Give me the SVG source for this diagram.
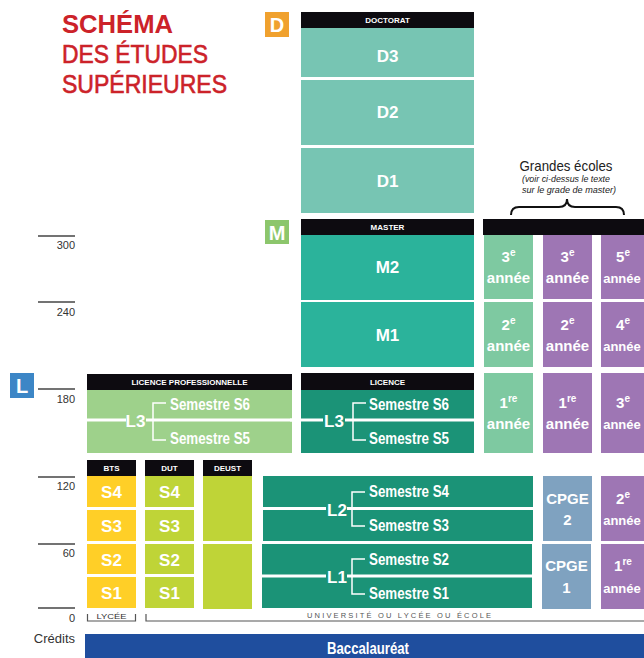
<svg xmlns="http://www.w3.org/2000/svg" width="644" height="658" viewBox="0 0 644 658">
<style>
text{font-family:"Liberation Sans Narrow","Liberation Sans",Arial,sans-serif}
.title{fill:#cc2229;font-size:25px}
.med{stroke:#cc2229;stroke-width:0.6}
.hdr{fill:#fff;font-size:8px;font-weight:bold;text-anchor:middle}
.lbl{fill:#fff;font-size:17px;font-weight:bold;text-anchor:middle}
.sem{fill:#fff;font-size:16px;font-weight:bold}
.yr{fill:#fff;font-size:15px;font-weight:bold;text-anchor:middle}
.yr3{fill:#fff;font-size:13px;font-weight:bold;text-anchor:middle}
.sup{font-size:10px}
.badge{fill:#fff;font-size:20px;font-weight:bold;text-anchor:middle}
.scale{fill:#333;font-size:11px;text-anchor:end}
.tick{stroke:#444;stroke-width:1.3}
.wl{stroke:#fff;stroke-width:3}
.br{stroke:#fff;stroke-width:1.5;fill:none}
.gbr{stroke:#555;stroke-width:1.2;fill:none}
.blk{fill:#0d0b10}
</style>

<g id="title">
<text class="title" x="62" y="33" font-weight="bold" textLength="111" lengthAdjust="spacingAndGlyphs">SCHÉMA</text>
<text class="title med" x="62" y="63" textLength="146" lengthAdjust="spacingAndGlyphs">DES ÉTUDES</text>
<text class="title med" x="62" y="93" textLength="165" lengthAdjust="spacingAndGlyphs">SUPÉRIEURES</text>
</g>

<g id="scale">
<line class="tick" x1="38" y1="236" x2="75" y2="236"/><text class="scale" x="75" y="249">300</text>
<line class="tick" x1="38" y1="302" x2="75" y2="302"/><text class="scale" x="75" y="316">240</text>
<line class="tick" x1="38" y1="389" x2="75" y2="389"/><text class="scale" x="75" y="403">180</text>
<line class="tick" x1="38" y1="477" x2="75" y2="477"/><text class="scale" x="75" y="490">120</text>
<line class="tick" x1="38" y1="544" x2="75" y2="544"/><text class="scale" x="75" y="557">60</text>
<line class="tick" x1="38" y1="608" x2="75" y2="608"/><text class="scale" x="75" y="622">0</text>
<text x="75" y="643" fill="#333" font-size="13" text-anchor="end">Crédits</text>
</g>

<g id="badge-D"><rect x="265" y="12" width="24" height="25" fill="#f0a12e"/><text class="badge" x="277" y="32">D</text></g>
<g id="badge-M"><rect x="265" y="220" width="24" height="24" fill="#8cc66c"/><text class="badge" x="277" y="240">M</text></g>
<g id="badge-L"><rect x="10" y="373" width="24" height="25" fill="#3c86c6"/><text class="badge" x="22" y="393">L</text></g>

<g id="doctorat">
<rect class="blk" x="301" y="12" width="173" height="16"/><text class="hdr" x="387.5" y="23">DOCTORAT</text>
<rect x="301" y="28" width="173" height="49" fill="#77c5b3"/><text class="lbl" x="387.5" y="62">D3</text>
<rect x="301" y="80" width="173" height="65" fill="#77c5b3"/><text class="lbl" x="387.5" y="118">D2</text>
<rect x="301" y="148" width="173" height="65" fill="#77c5b3"/><text class="lbl" x="387.5" y="187">D1</text>
</g>

<g id="master">
<rect class="blk" x="301" y="219" width="173" height="16"/><text class="hdr" x="387.5" y="230">MASTER</text>
<rect x="301" y="235" width="173" height="65" fill="#2bb39b"/><text class="lbl" x="387.5" y="273">M2</text>
<rect x="301" y="302" width="173" height="65" fill="#2bb39b"/><text class="lbl" x="387.5" y="341">M1</text>
</g>

<g id="licence">
<rect class="blk" x="301" y="373" width="173" height="17"/><text class="hdr" x="387.5" y="385">LICENCE</text>
<rect x="301" y="390" width="173" height="63" fill="#1b9377"/>
<text class="lbl" x="334" y="427">L3</text>
<text class="sem" x="369" y="410" textLength="80" lengthAdjust="spacingAndGlyphs">Semestre S6</text>
<text class="sem" x="369" y="444" textLength="80" lengthAdjust="spacingAndGlyphs">Semestre S5</text>
</g>

<g id="licence-pro">
<rect class="blk" x="87" y="374" width="205" height="16"/><text class="hdr" x="189.5" y="385">LICENCE PROFESSIONNELLE</text>
<rect x="87" y="390" width="205" height="63" fill="#9ed18b"/>
<text class="lbl" x="135.5" y="427">L3</text>
<text class="sem" x="170" y="410" textLength="80" lengthAdjust="spacingAndGlyphs">Semestre S6</text>
<text class="sem" x="170" y="444" textLength="80" lengthAdjust="spacingAndGlyphs">Semestre S5</text>
</g>

<g id="l2">
<rect x="263" y="476" width="270" height="65" fill="#1b9377"/>
<text class="lbl" x="337" y="516">L2</text>
<text class="sem" x="369" y="497" textLength="80" lengthAdjust="spacingAndGlyphs">Semestre S4</text>
<text class="sem" x="369" y="531" textLength="80" lengthAdjust="spacingAndGlyphs">Semestre S3</text>
</g>

<g id="l1">
<rect x="262" y="544" width="270" height="64" fill="#1b9377"/>
<text class="lbl" x="337" y="583">L1</text>
<text class="sem" x="369" y="565" textLength="80" lengthAdjust="spacingAndGlyphs">Semestre S2</text>
<text class="sem" x="369" y="599" textLength="80" lengthAdjust="spacingAndGlyphs">Semestre S1</text>
</g>

<g id="bts">
<rect class="blk" x="87" y="460" width="49" height="16"/><text class="hdr" x="111.5" y="471">BTS</text>
<rect x="87" y="476" width="49" height="31" fill="#ffcf27"/><text class="lbl" x="111.5" y="498">S4</text>
<rect x="87" y="510" width="49" height="31" fill="#ffcf27"/><text class="lbl" x="111.5" y="532">S3</text>
<rect x="87" y="544" width="49" height="30" fill="#ffcf27"/><text class="lbl" x="111.5" y="566">S2</text>
<rect x="87" y="577" width="49" height="31" fill="#ffcf27"/><text class="lbl" x="111.5" y="599">S1</text>
</g>

<g id="dut">
<rect class="blk" x="145" y="460" width="49" height="16"/><text class="hdr" x="169.5" y="471">DUT</text>
<rect x="145" y="476" width="49" height="31" fill="#bfd437"/><text class="lbl" x="169.5" y="498">S4</text>
<rect x="145" y="510" width="49" height="31" fill="#bfd437"/><text class="lbl" x="169.5" y="532">S3</text>
<rect x="145" y="544" width="49" height="30" fill="#bfd437"/><text class="lbl" x="169.5" y="566">S2</text>
<rect x="145" y="577" width="49" height="31" fill="#bfd437"/><text class="lbl" x="169.5" y="599">S1</text>
</g>

<g id="deust">
<rect class="blk" x="203" y="460" width="49" height="16"/><text class="hdr" x="227.5" y="471">DEUST</text>
<rect x="203" y="476" width="49" height="65" fill="#bfd437"/>
<rect x="203" y="544" width="49" height="65" fill="#bfd437"/>
</g>

<g id="grandes-ecoles">
<text x="566" y="171" font-size="15" fill="#222" text-anchor="middle" textLength="93" lengthAdjust="spacingAndGlyphs">Grandes écoles</text>
<text x="566" y="182" font-size="9.5" font-style="italic" fill="#222" text-anchor="middle" textLength="88" lengthAdjust="spacingAndGlyphs">(voir ci-dessus le texte</text>
<text x="569" y="193" font-size="9.5" font-style="italic" fill="#222" text-anchor="middle" textLength="94" lengthAdjust="spacingAndGlyphs">sur le grade de master)</text>
<path d="M511,215 Q511,207 519,207 L559,207 Q567,207 567,199 Q567,207 575,207 L616,207 Q624,207 624,215" fill="none" stroke="#111" stroke-width="2"/>
<rect class="blk" x="483" y="219" width="161" height="16"/>
</g>

<g id="ge-col1">
<rect x="484" y="235" width="49" height="64" fill="#7ec9a1"/>
<text class="yr" x="508.5" y="262">3<tspan class="sup" dy="-6">e</tspan></text><text class="yr" x="508.5" y="283">année</text>
<rect x="484" y="302" width="49" height="65" fill="#7ec9a1"/>
<text class="yr" x="508.5" y="330">2<tspan class="sup" dy="-6">e</tspan></text><text class="yr" x="508.5" y="351">année</text>
<rect x="484" y="373" width="49" height="80" fill="#7ec9a1"/>
<text class="yr" x="508.5" y="408">1<tspan class="sup" dy="-6">re</tspan></text><text class="yr" x="508.5" y="429">année</text>
</g>

<g id="ge-col2">
<rect x="543" y="235" width="49" height="64" fill="#9e76b4"/>
<text class="yr" x="567.5" y="262">3<tspan class="sup" dy="-6">e</tspan></text><text class="yr" x="567.5" y="283">année</text>
<rect x="543" y="302" width="49" height="65" fill="#9e76b4"/>
<text class="yr" x="567.5" y="330">2<tspan class="sup" dy="-6">e</tspan></text><text class="yr" x="567.5" y="351">année</text>
<rect x="543" y="373" width="49" height="80" fill="#9e76b4"/>
<text class="yr" x="567.5" y="408">1<tspan class="sup" dy="-6">re</tspan></text><text class="yr" x="567.5" y="429">année</text>
<rect x="543" y="476" width="49" height="65" fill="#7fa2c0"/>
<text class="yr" x="567.5" y="504">CPGE</text><text class="yr" x="567.5" y="525">2</text>
<rect x="542" y="544" width="49" height="65" fill="#7fa2c0"/>
<text class="yr" x="566.5" y="571">CPGE</text><text class="yr" x="566.5" y="593">1</text>
</g>

<g id="ge-col3">
<rect x="601" y="235" width="50" height="64" fill="#9e76b4"/>
<text class="yr" x="623" y="262">5<tspan class="sup" dy="-6">e</tspan></text><text class="yr3" x="622" y="283">année</text>
<rect x="601" y="302" width="50" height="65" fill="#9e76b4"/>
<text class="yr" x="623" y="330">4<tspan class="sup" dy="-6">e</tspan></text><text class="yr3" x="622" y="351">année</text>
<rect x="601" y="373" width="50" height="80" fill="#9e76b4"/>
<text class="yr" x="623" y="408">3<tspan class="sup" dy="-6">e</tspan></text><text class="yr3" x="622" y="429">année</text>
<rect x="601" y="476" width="50" height="65" fill="#9e76b4"/>
<text class="yr" x="623" y="504">2<tspan class="sup" dy="-6">e</tspan></text><text class="yr3" x="622" y="525">année</text>
<rect x="601" y="544" width="50" height="65" fill="#9e76b4"/>
<text class="yr" x="623" y="571">1<tspan class="sup" dy="-6">re</tspan></text><text class="yr3" x="622" y="593">année</text>
</g>

<g id="connectors">
<line class="wl" x1="87" y1="420" x2="126" y2="420"/><line class="wl" x1="146" y1="420" x2="292" y2="420"/>
<path class="br" d="M166,403 H153 V440 H166"/>
<line class="wl" x1="290" y1="420" x2="323" y2="420"/><line class="wl" x1="345" y1="420" x2="474" y2="420"/>
<path class="br" d="M366,403 H353 V440 H366"/>
<line class="wl" x1="263" y1="508.5" x2="326" y2="508.5"/><line class="wl" x1="347" y1="508.5" x2="533" y2="508.5"/>
<path class="br" d="M365,492 H352 V526 H365"/>
<line class="wl" x1="262" y1="576" x2="326" y2="576"/><line class="wl" x1="347" y1="576" x2="532" y2="576"/>
<path class="br" d="M365,559 H352 V594 H365"/>
</g>

<g id="bottom">
<path class="gbr" d="M87.5,614 V621 H135.5 V614"/>
<text x="111.5" y="618.5" font-size="7.5" fill="#333" text-anchor="middle" textLength="30" lengthAdjust="spacingAndGlyphs">LYCÉE</text>
<path class="gbr" d="M146,614 V621 H644"/>
<text x="307" y="617.5" font-size="7.5" fill="#555" textLength="184" lengthAdjust="spacing">UNIVERSITÉ OU LYCÉE OU ÉCOLE</text>
</g>

<g id="bac">
<rect x="85" y="634" width="559" height="24" fill="#1f4e9e"/>
<text x="368" y="654" font-size="16" font-weight="bold" fill="#fff" text-anchor="middle" textLength="82" lengthAdjust="spacingAndGlyphs">Baccalauréat</text>
</g>
</svg>
